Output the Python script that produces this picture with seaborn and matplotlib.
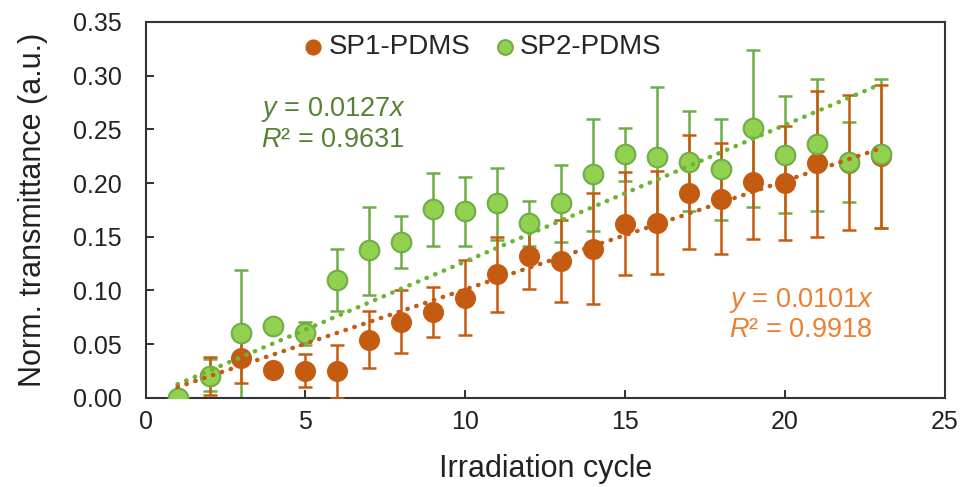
import numpy as np
import pandas as pd
import matplotlib
matplotlib.use('Agg')
import matplotlib.pyplot as plt
import seaborn as sns

# data
cycles = list(range(1, 24))

sp1_y = [0.0, 0.020, 0.037, 0.026, 0.025, 0.025, 0.054, 0.071, 0.080, 0.093, 0.115, 0.132,
         0.127, 0.139, 0.162, 0.163, 0.191, 0.185, 0.201, 0.200, 0.219, 0.219, 0.225]
sp1_hi = [0.0, 0.038, 0.060, 0.026, 0.041, 0.049, 0.081, 0.100, 0.103, 0.128, 0.150, 0.163,
          0.166, 0.191, 0.210, 0.211, 0.245, 0.237, 0.254, 0.253, 0.286, 0.282, 0.291]
sp1_lo = [0.0, 0.003, 0.014, 0.026, 0.010, 0.0, 0.028, 0.042, 0.057, 0.059, 0.080, 0.101,
          0.089, 0.087, 0.114, 0.115, 0.139, 0.134, 0.148, 0.147, 0.150, 0.156, 0.158]

sp2_y = [0.0, 0.020, 0.060, 0.067, 0.060, 0.110, 0.138, 0.145, 0.176, 0.174, 0.181, 0.163,
         0.181, 0.208, 0.227, 0.224, 0.220, 0.213, 0.251, 0.226, 0.236, 0.220, 0.227]
sp2_hi = [0.0, 0.036, 0.119, 0.067, 0.071, 0.139, 0.178, 0.169, 0.209, 0.206, 0.214, 0.183,
          0.217, 0.260, 0.251, 0.289, 0.267, 0.260, 0.324, 0.281, 0.297, 0.257, 0.297]
sp2_lo = [0.0, 0.006, 0.0, 0.067, 0.049, 0.081, 0.096, 0.121, 0.141, 0.141, 0.147, 0.141,
          0.145, 0.155, 0.202, 0.160, 0.174, 0.166, 0.178, 0.172, 0.174, 0.182, 0.158]

# linear fits through origin as printed on the chart
sp1_slope, sp1_r2 = 0.0101, 0.9918
sp2_slope, sp2_r2 = 0.0127, 0.9631

orange = '#C55A11'
orange_txt = '#ED7D31'
green_face = '#92D050'
green_edge = '#70AD47'
green_txt = '#548235'

sns.set_style('white')
plt.rcParams['font.family'] = ['Liberation Sans', 'DejaVu Sans']
plt.rcParams['mathtext.fontset'] = 'custom'
plt.rcParams['mathtext.rm'] = 'Liberation Sans'
plt.rcParams['mathtext.it'] = 'Liberation Sans:italic'

df1 = pd.DataFrame({'x': cycles, 'y': sp1_y, 'hi': sp1_hi, 'lo': sp1_lo})
df2 = pd.DataFrame({'x': cycles, 'y': sp2_y, 'hi': sp2_hi, 'lo': sp2_lo})

fig = plt.figure(figsize=(9.77, 4.87), dpi=100)
ax = fig.add_axes([0.149, 0.183, 0.818, 0.772])

# error bars
ax.errorbar(df2['x'], df2['y'], yerr=[df2['y'] - df2['lo'], df2['hi'] - df2['y']],
            fmt='none', ecolor=green_edge, elinewidth=1.8, capsize=5, capthick=1.8, zorder=2)
ax.errorbar(df1['x'], df1['y'], yerr=[df1['y'] - df1['lo'], df1['hi'] - df1['y']],
            fmt='none', ecolor=orange, elinewidth=1.8, capsize=5, capthick=1.8, zorder=3)

# markers
sns.scatterplot(data=df1, x='x', y='y', ax=ax, color=orange, edgecolor=orange,
                s=200, linewidth=1, label='SP1-PDMS', zorder=4)
sns.scatterplot(data=df2, x='x', y='y', ax=ax, color=green_face, edgecolor=green_edge,
                s=200, linewidth=1.5, label='SP2-PDMS', zorder=5)

# trend lines
xs = np.array([cycles[0], cycles[-1]])
sns.lineplot(x=xs, y=sp2_slope * xs, ax=ax, color='#6BB52F', linestyle=(0, (0.1, 2.0)),
             linewidth=3.2, dash_capstyle='round', zorder=6, legend=False)
sns.lineplot(x=xs, y=sp1_slope * xs, ax=ax, color=orange, linestyle=(0, (0.1, 2.0)),
             linewidth=3.2, dash_capstyle='round', zorder=6, legend=False)

ax.text(3.6, 0.268, '$y$ = %.4f$x$' % sp2_slope, color=green_txt, fontsize=19.5, va='center')
ax.text(3.6, 0.240, '$R$² = %.4f' % sp2_r2, color=green_txt, fontsize=19.5, va='center')
ax.text(18.25, 0.091, '$y$ = %.4f$x$' % sp1_slope, color=orange_txt, fontsize=19.5, va='center')
ax.text(18.25, 0.063, '$R$² = %.4f' % sp1_r2, color=orange_txt, fontsize=19.5, va='center')

ax.set_xlim(0, 25)
ax.set_ylim(0, 0.35)
ax.set_xticks([0, 5, 10, 15, 20, 25])
ax.set_yticks(np.arange(0, 0.351, 0.05))
ax.yaxis.set_major_formatter(matplotlib.ticker.FormatStrFormatter('%.2f'))
ax.tick_params(direction='in', length=6, width=1.3, labelsize=18, colors='#222222',
               bottom=True, left=True, top=False, right=False, pad=9)
ax.tick_params(axis='y', pad=17)
for sp in ax.spines.values():
    sp.set_color('#333333')
    sp.set_linewidth(1.5)

ax.set_xlabel('Irradiation cycle', fontsize=22, color='#222222', labelpad=14)
ax.set_ylabel('Norm. transmittance (a.u.)', fontsize=22, color='#222222', labelpad=18)

ax.legend(loc='center', bbox_to_anchor=(0.42, 0.932), ncol=2, frameon=False, fontsize=20,
          handlelength=0.9, handletextpad=0.1, columnspacing=0.8, markerscale=0.75)

fig.savefig('out.png', dpi=100)
